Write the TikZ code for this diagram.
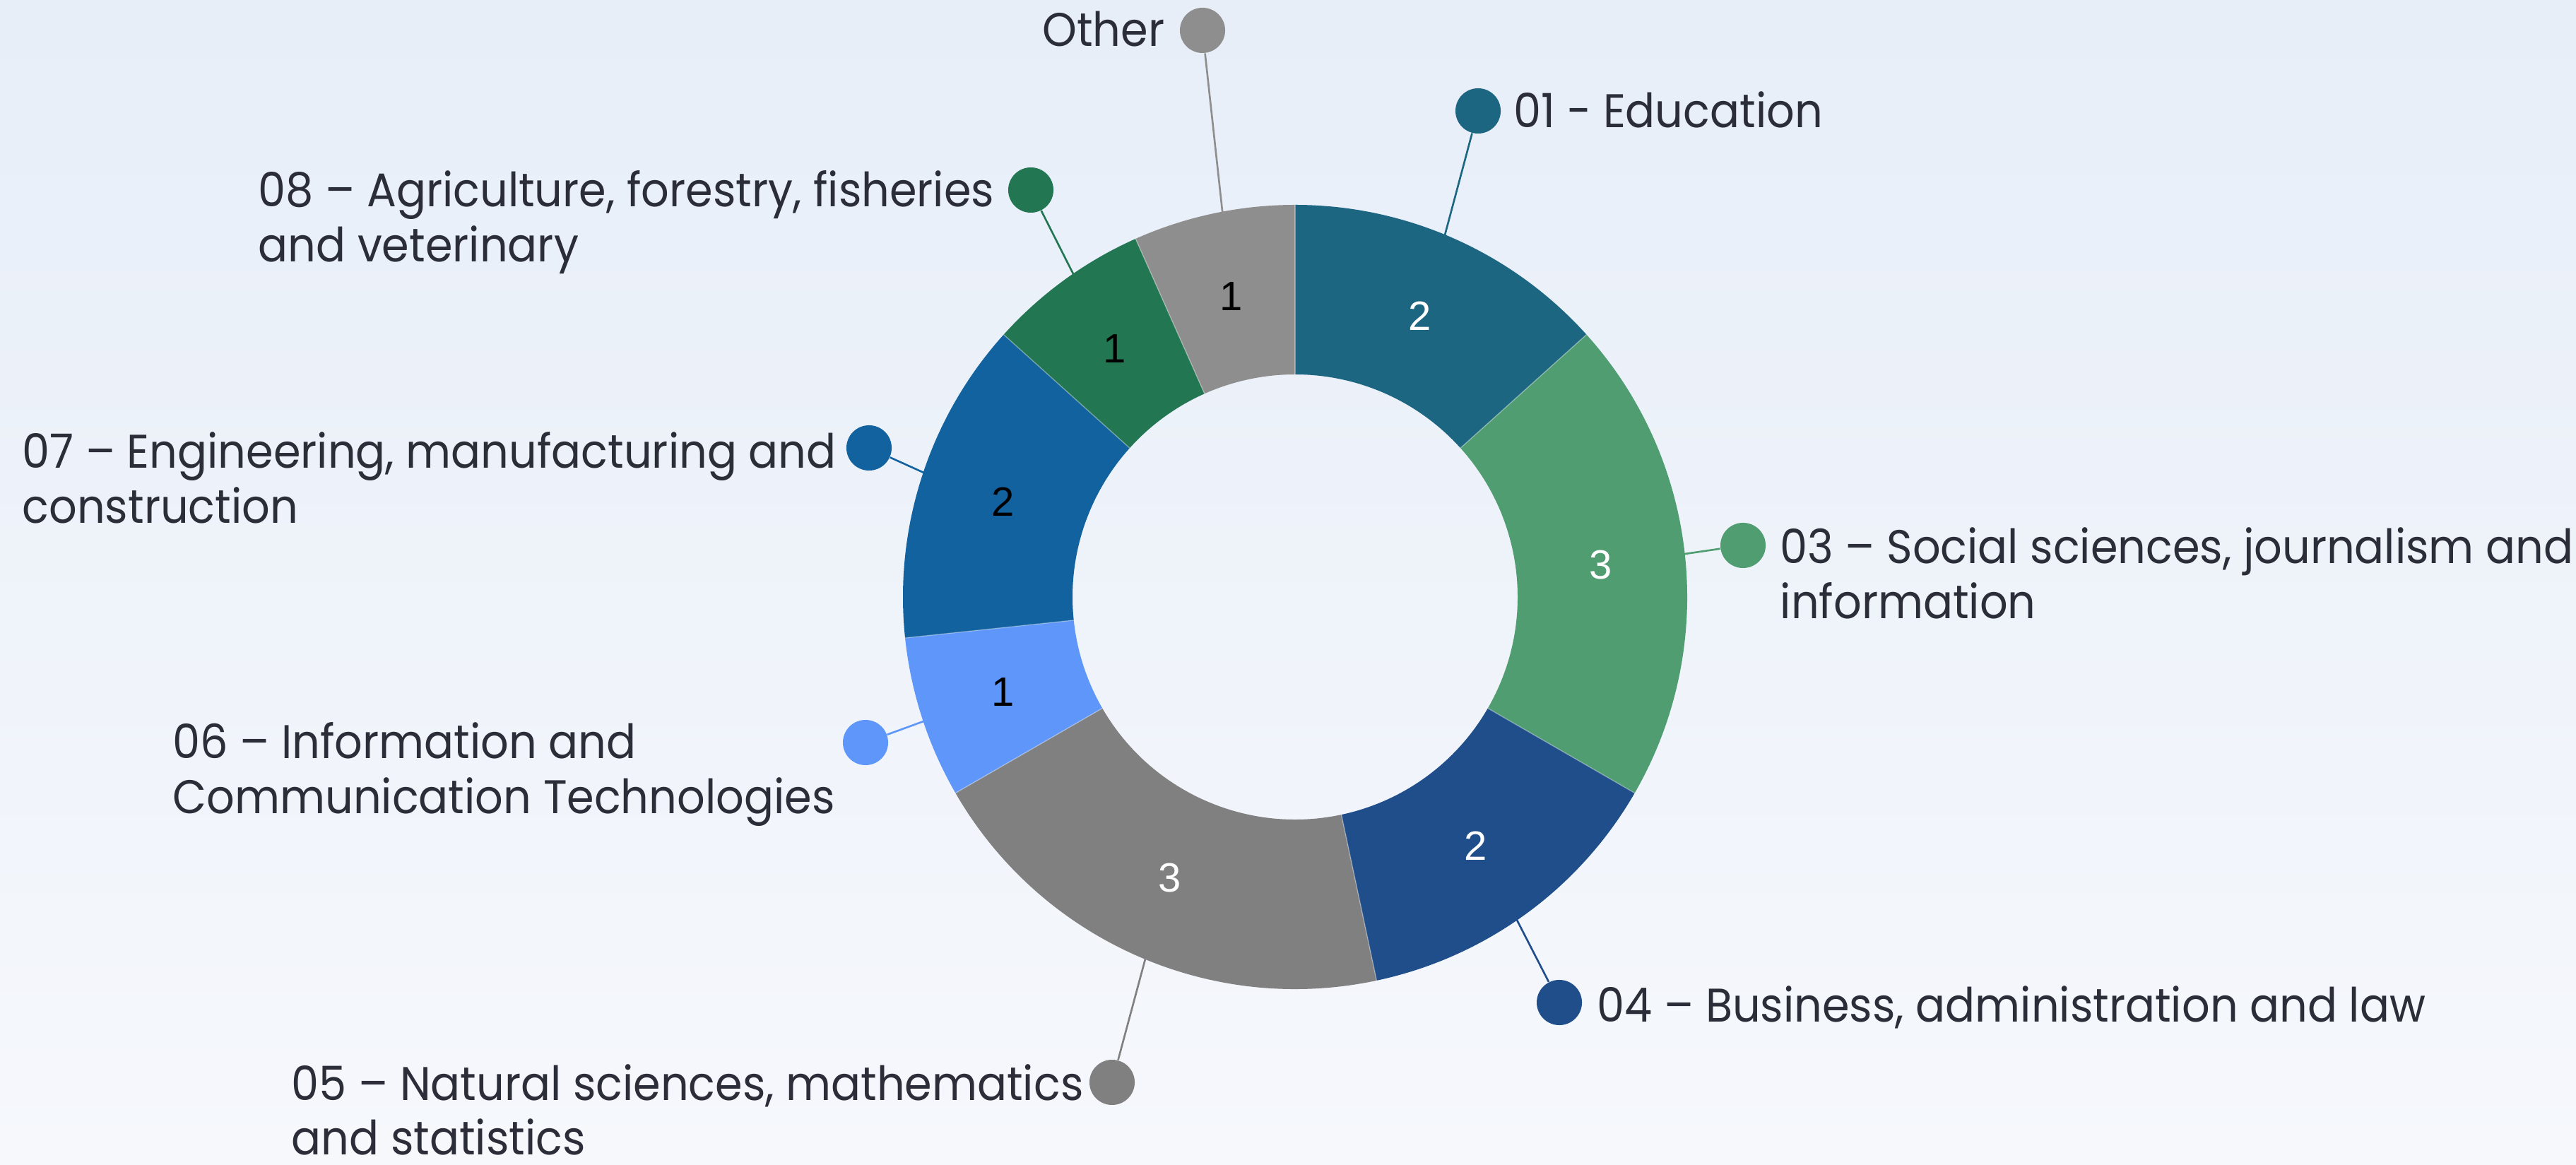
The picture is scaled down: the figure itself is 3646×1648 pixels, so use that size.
\documentclass[tikz,border=0pt]{standalone}
\usepackage{fontspec}
\setmainfont{Liberation Sans}
\newfontfamily\lblfont[FakeStretch=0.93]{Poppins}
\newfontfamily\numfont{Liberation Sans}
\definecolor{bgtop}{RGB}{231,238,248}
\definecolor{bgbot}{RGB}{246,248,252}
\definecolor{txt}{RGB}{43,46,56}
\definecolor{cEdu}{RGB}{29,102,130}
\definecolor{cSoc}{RGB}{80,157,114}
\definecolor{cBus}{RGB}{31,78,138}
\definecolor{cNat}{RGB}{128,128,128}
\definecolor{cIct}{RGB}{94,150,250}
\definecolor{cEng}{RGB}{18,98,160}
\definecolor{cAgr}{RGB}{35,118,82}
\definecolor{cOth}{RGB}{142,142,142}
\begin{document}
\begin{tikzpicture}[x=0.01cm,y=0.01cm,
  lbl/.style={font=\lblfont\fontsize{19}{21.9}\selectfont, text=txt, inner sep=0pt},
  num/.style={font=\numfont\fontsize{16.5}{18}\selectfont, inner sep=0pt},
  dot/.style={circle, fill=#1, inner sep=0pt, minimum size=0.64cm},
  leader/.style={draw=#1, line width=0.75pt}]
\useasboundingbox (0,0) rectangle (3646,1648);
\shade[top color=bgtop, bottom color=bgbot] (0,0) rectangle (3646,1648);
\begin{scope}[shift={(1833,803)}]
  \foreach \a/\b/\c in {90/42/cEdu, 42/-30/cSoc, -30/-78/cBus, -78/-150/cNat, -150/-174/cIct, -174/-222/cEng, -222/-246/cAgr, -246/-270/cOth}{
    \fill[\c] (\a:555) arc[start angle=\a, end angle=\b, radius=555] -- (\b:315) arc[start angle=\b, end angle=\a, radius=315] -- cycle;
  }
  \foreach \a in {90,42,-30,-78,-150,-174,-222,-246}{
    \draw[white, opacity=0.35, line width=0.4pt] (\a:315) -- (\a:555);
  }
  \node[num, text=white] (nEdu) at (66:435) {2};
  \node[num, text=white] (nSoc) at (6:435) {3};
  \node[num, text=white] (nBus) at (-54:435) {2};
  \node[num, text=white] (nNat) at (-114:435) {3};
  \node[num, text=black] (nIct) at (-162:435) {1};
  \node[num, text=black] (nEng) at (162:435) {2};
  \node[num, text=black] (nAgr) at (126:435) {1};
  \node[num, text=black] (nOth) at (102:435) {1};
  \coordinate (rEdu) at (67.5:553);
  \coordinate (rSoc) at (6.3:553);
  \coordinate (rBus) at (-55.5:553);
  \coordinate (rNat) at (-112.5:553);
  \coordinate (rIct) at (-161.5:553);
  \coordinate (rEng) at (161.5:553);
  \coordinate (rAgr) at (124.5:553);
  \coordinate (rOth) at (100.7:553);
\end{scope}
% dots
\node[dot=cOth] (dOth) at (1702,1605) {};
\node[dot=cEdu] (dEdu) at (2092,1491) {};
\node[dot=cAgr] (dAgr) at (1459,1379) {};
\node[dot=cEng] (dEng) at (1230,1014) {};
\node[dot=cSoc] (dSoc) at (2467,876) {};
\node[dot=cIct] (dIct) at (1225,597) {};
\node[dot=cBus] (dBus) at (2207,229) {};
\node[dot=cNat] (dNat) at (1574,116) {};
% leaders
\draw[leader=cOth] (dOth) -- (rOth);
\draw[leader=cEdu] (dEdu) -- (rEdu);
\draw[leader=cAgr] (dAgr) -- (rAgr);
\draw[leader=cEng] (dEng) -- (rEng);
\draw[leader=cSoc] (dSoc) -- (rSoc);
\draw[leader=cIct] (dIct) -- (rIct);
\draw[leader=cBus] (dBus) -- (rBus);
\draw[leader=cNat] (dNat) -- (rNat);
% labels
\node[lbl, anchor=base east] (tOth) at (1649,1582) {Other};
\node[lbl, anchor=base west] (tEdu) at (2142,1467) {01 - Education};
\node[lbl, anchor=base west] (tAgr) at (365,1355) {\begin{tabular}[t]{@{}l@{}}08 – Agriculture, forestry, fisheries\\ and veterinary\end{tabular}};
\node[lbl, anchor=base west] (tEng) at (31,985) {\begin{tabular}[t]{@{}l@{}}07 – Engineering, manufacturing and\\ construction\end{tabular}};
\node[lbl, anchor=base west] (tSoc) at (2519,850) {\begin{tabular}[t]{@{}l@{}}03 – Social sciences, journalism and\\ information\end{tabular}};
\node[lbl, anchor=base west] (tIct) at (244,574) {\begin{tabular}[t]{@{}l@{}}06 – Information and\\ Communication Technologies\end{tabular}};
\node[lbl, anchor=base west] (tBus) at (2260,202) {04 – Business, administration and law};
\node[lbl, anchor=base west] (tNat) at (412,91) {\begin{tabular}[t]{@{}l@{}}05 – Natural sciences, mathematics\\ and statistics\end{tabular}};
\end{tikzpicture}
\end{document}
